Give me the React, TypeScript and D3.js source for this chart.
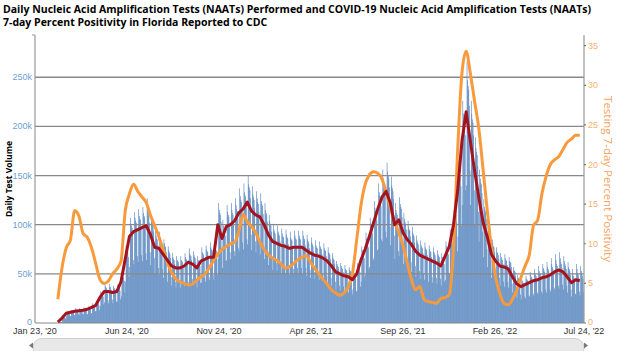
import React from "react";
import * as d3 from "d3";

const titleLines = [
  "Daily Nucleic Acid Amplification Tests (NAATs) Performed and COVID-19 Nucleic Acid Amplification Tests (NAATs)",
  "7-day Percent Positivity in Florida Reported to CDC",
];

const xTickDates = ["2020-01-23", "2020-06-24", "2020-11-24", "2021-04-26", "2021-09-26", "2022-02-26", "2022-07-24"];
const xTickLabels = ["Jan 23, '20", "Jun 24, '20", "Nov 24, '20", "Apr 26, '21", "Sep 26, '21", "Feb 26, '22", "Jul 24, '22"];
const leftTicks = [0, 50, 100, 150, 200, 250];
const rightTicks = [0, 5, 10, 15, 20, 25, 30, 35];

// daily NAATs (thousands), one row per week starting Sun Mar 1 2020
const seriesStart = "2020-03-01";
const dailyTestsK = [
  [0, 1, 1, 1, 1, 1, 1], [3, 6, 6, 5, 6, 5, 4], [7, 12, 11, 11, 11, 10, 7], [7, 13, 13, 12, 12, 11, 8],
  [8, 15, 14, 13, 13, 12, 9], [8, 15, 14, 14, 14, 13, 9], [9, 16, 15, 15, 14, 13, 9], [9, 17, 16, 16, 15, 14, 10],
  [10, 20, 18, 18, 18, 16, 12], [12, 22, 21, 20, 20, 18, 13], [17, 32, 30, 29, 29, 27, 19], [21, 39, 37, 36, 35, 33, 23],
  [20, 40, 36, 37, 34, 33, 24], [20, 38, 36, 35, 34, 32, 22], [21, 39, 37, 36, 35, 33, 24], [27, 51, 48, 47, 46, 43, 31],
  [42, 79, 75, 73, 72, 67, 47], [57, 107, 101, 99, 97, 91, 64], [60, 113, 107, 104, 102, 96, 68], [62, 116, 109, 106, 105, 98, 69],
  [63, 118, 112, 109, 107, 100, 71], [64, 127, 118, 113, 109, 102, 72], [59, 110, 104, 101, 99, 93, 66], [50, 94, 89, 86, 85, 79, 56],
  [49, 93, 87, 85, 84, 78, 55], [46, 85, 81, 78, 77, 72, 51], [42, 78, 74, 72, 70, 66, 47], [38, 71, 67, 65, 64, 60, 42],
  [36, 68, 64, 63, 62, 58, 41], [36, 68, 64, 63, 62, 58, 41], [38, 71, 67, 65, 64, 60, 42], [40, 76, 71, 69, 68, 64, 45],
  [39, 73, 69, 67, 66, 62, 44], [36, 68, 64, 63, 62, 58, 41], [41, 77, 72, 71, 69, 65, 46], [42, 79, 75, 73, 72, 67, 47],
  [44, 82, 77, 75, 74, 69, 49], [44, 82, 77, 75, 74, 69, 49], [65, 122, 115, 112, 110, 103, 73], [56, 105, 99, 96, 95, 89, 63],
  [64, 120, 113, 110, 108, 101, 72], [65, 122, 115, 112, 110, 103, 73], [68, 127, 120, 116, 114, 107, 76], [73, 137, 129, 125, 123, 115, 82],
  [75, 142, 133, 130, 128, 119, 85], [80, 150, 141, 138, 135, 127, 90], [74, 139, 131, 128, 125, 117, 83], [72, 134, 127, 123, 121, 113, 80],
  [70, 132, 124, 121, 119, 111, 79], [65, 122, 115, 112, 110, 103, 73], [59, 110, 104, 101, 99, 93, 66], [54, 101, 95, 93, 91, 85, 61],
  [53, 99, 93, 91, 89, 83, 59], [51, 96, 91, 88, 87, 81, 58], [51, 95, 90, 87, 86, 80, 57], [49, 93, 87, 85, 84, 78, 55],
  [50, 94, 89, 86, 85, 79, 56], [50, 94, 89, 86, 85, 79, 56], [50, 94, 89, 86, 85, 79, 56], [48, 90, 85, 83, 81, 76, 54],
  [46, 87, 82, 80, 78, 73, 52], [45, 84, 79, 77, 76, 71, 50], [44, 83, 78, 76, 75, 70, 50], [43, 81, 76, 74, 73, 68, 48],
  [41, 77, 72, 71, 69, 65, 46], [38, 71, 67, 65, 64, 60, 42], [34, 63, 60, 58, 57, 54, 38], [33, 61, 58, 56, 55, 52, 37],
  [31, 59, 55, 54, 53, 49, 35], [31, 57, 54, 53, 52, 48, 34], [29, 54, 51, 49, 48, 45, 32], [33, 61, 58, 56, 55, 52, 37],
  [42, 78, 74, 72, 70, 66, 47], [49, 92, 86, 84, 83, 77, 55], [57, 107, 101, 99, 97, 91, 64], [66, 124, 117, 114, 112, 105, 74],
  [75, 142, 133, 130, 128, 119, 85], [83, 156, 147, 143, 141, 132, 93], [87, 163, 154, 150, 147, 138, 98], [79, 149, 140, 137, 134, 126, 89],
  [65, 122, 115, 112, 110, 103, 73], [68, 128, 121, 118, 116, 108, 77], [60, 112, 106, 103, 101, 95, 67], [55, 104, 98, 95, 94, 88, 62],
  [52, 98, 92, 90, 88, 82, 58], [47, 89, 84, 82, 80, 75, 53], [45, 84, 79, 77, 76, 71, 50], [44, 82, 77, 75, 74, 69, 49],
  [42, 79, 75, 73, 72, 67, 47], [41, 77, 72, 71, 69, 65, 46], [40, 74, 70, 68, 67, 63, 45], [38, 71, 67, 65, 64, 60, 42],
  [44, 83, 78, 76, 75, 70, 50], [51, 95, 90, 87, 86, 80, 57], [65, 122, 115, 112, 110, 103, 73], [88, 165, 155, 151, 149, 139, 99],
  [120, 226, 213, 207, 204, 191, 135], [140, 266, 247, 241, 237, 221, 155], [120, 226, 213, 207, 204, 191, 135], [101, 189, 178, 174, 171, 160, 113],
  [83, 156, 147, 143, 141, 132, 93], [67, 126, 118, 115, 113, 106, 75], [57, 107, 101, 99, 97, 91, 64], [46, 85, 81, 78, 77, 72, 51],
  [41, 77, 72, 71, 69, 65, 46], [38, 71, 67, 65, 64, 60, 42], [37, 70, 66, 64, 63, 59, 42], [36, 67, 63, 62, 61, 57, 40],
  [31, 57, 54, 53, 52, 48, 34], [26, 49, 46, 45, 44, 41, 29], [24, 45, 43, 41, 41, 38, 27], [25, 48, 45, 44, 43, 40, 28],
  [27, 52, 49, 47, 46, 43, 30], [28, 55, 51, 49, 48, 45, 31], [29, 58, 53, 51, 50, 46, 32], [30, 60, 56, 54, 52, 48, 34],
  [31, 62, 57, 55, 53, 49, 34], [32, 66, 60, 57, 55, 51, 36], [34, 70, 64, 60, 58, 55, 38], [35, 72, 66, 62, 60, 56, 39],
  [34, 68, 63, 60, 58, 55, 38], [31, 62, 57, 55, 53, 49, 34], [27, 55, 50, 48, 46, 43, 30], [29, 60, 55, 51, 49, 46, 32],
  [28, 58, 53, 50, 48, 45, 31],
];

// 7-day average tests (thousands), weekly samples from Mar 1 2020
const avgTestsK = [
  1, 5, 10, 11, 12, 12.5, 13, 14, 16, 18, 26, 32, 32, 31, 32, 42, 65, 88, 93, 95,
  97, 99, 90, 77, 76, 70, 64, 58, 56, 56, 58, 62, 60, 56, 63, 65, 67, 67, 100, 86,
  98, 100, 104, 112, 116, 123, 114, 110, 108, 100, 90, 83, 81, 79, 78, 76, 77, 77, 77, 74,
  71, 69, 68, 66, 63, 58, 52, 50, 48, 47, 44, 50, 64, 75, 88, 102, 116, 128, 134, 122,
  100, 105, 92, 85, 80, 73, 69, 67, 65, 63, 61, 58, 68, 78, 100, 135, 185, 215, 185, 155,
  128, 103, 88, 70, 63, 58, 57, 55, 47, 40, 37, 39, 41, 43, 44, 46, 47, 49, 52, 54,
  52, 47, 41, 44, 43,
];

// 7-day percent positivity, weekly samples from Mar 1 2020
const positivityPct = [
  3.0, 7.0, 9.5, 10.5, 14.2, 13.5, 11.3, 10.8, 9.5, 7.5, 5.5, 5.0, 5.3, 6.2, 6.8, 7.8, 14.1, 16.3, 17.5, 16.6,
  15.9, 15.2, 13.6, 12.3, 10.9, 9.3, 7.7, 6.4, 5.6, 5.2, 5.0, 4.8, 4.9, 5.4, 5.8, 6.2, 7.0, 7.9, 8.7, 9.3,
  9.7, 10.0, 10.2, 11.6, 13.7, 12.8, 12.2, 11.4, 10.2, 9.3, 8.6, 8.2, 7.9, 7.5, 6.9, 7.1, 7.5, 8.0, 8.3, 8.5,
  7.7, 6.9, 6.2, 5.5, 4.9, 4.2, 3.8, 3.5, 3.8, 4.6, 6.3, 10.5, 14.8, 17.5, 18.7, 19.1, 18.9, 18.2, 16.5, 14.6,
  12.8, 11.4, 9.8, 7.6, 5.5, 4.2, 4.6, 3.0, 2.7, 2.6, 2.5, 3.1, 3.2, 3.6, 9.5, 22.0, 31.5, 34.3, 31.5, 28.0,
  24.6, 19.5, 14.3, 9.5, 5.8, 3.7, 2.5, 2.3, 3.0, 4.1, 5.7, 7.2, 8.6, 12.3, 13.0, 16.3, 18.5, 20.0, 20.6, 21.0,
  21.9, 22.8, 23.2, 23.7, 23.7,
];

export default function App() {
  const width = 624;
  const height = 351;
  const left = 35;
  const right = 584;
  const top = 35;
  const bottom = 323;

  const parse = d3.timeParse("%Y-%m-%d");
  const x = d3
    .scaleTime()
    .domain([parse("2020-01-23")!, parse("2022-07-24")!])
    .range([left, right]);
  const yL = d3.scaleLinear().domain([0, 293]).range([bottom, top]);
  const yR = d3.scaleLinear().domain([0, 36.35]).range([bottom, top]);

  const start = parse(seriesStart)!;
  const bars = dailyTestsK.flat().map((v, i) => ({ date: d3.timeDay.offset(start, i), v }));
  const dayW = x(d3.timeDay.offset(start, 1)) - x(start);
  const avg = avgTestsK.map((v, k) => ({ date: d3.timeDay.offset(start, 7 * k), v }));
  const pos = positivityPct.map((v, k) => ({ date: d3.timeDay.offset(start, 7 * k), v }));

  const avgLine = d3
    .line<{ date: Date; v: number }>()
    .x((d) => x(d.date))
    .y((d) => yL(d.v));
  const posLine = d3
    .line<{ date: Date; v: number }>()
    .x((d) => x(d.date))
    .y((d) => yR(d.v))
    .curve(d3.curveMonotoneX);

  const sans = "'Liberation Sans', Arial, sans-serif";
  const open = "'Open Sans', sans-serif";

  return (
    <svg
      width={width}
      height={height}
      style={{ position: "absolute", left: 0, top: 0, background: "#fff" }}
    >
      {titleLines.map((t, i) => (
        <text key={i} x={3} y={13 + i * 12.6} fontFamily={open} fontWeight="bold" fontSize={10.5} fill="#000">
          {t}
        </text>
      ))}

      {/* bars */}
      <g fill="#4176b6">
        {bars.map((d, i) => (
          <rect key={i} x={x(d.date)} y={yL(d.v)} width={dayW * 0.95} height={bottom - yL(d.v)} />
        ))}
      </g>

      {/* grid */}
      {leftTicks.slice(1).map((t) => (
        <line key={t} x1={left} x2={right} y1={yL(t)} y2={yL(t)} stroke="#888" strokeWidth={1.3} />
      ))}

      {/* axes */}
      <line x1={left} x2={left} y1={top} y2={bottom} stroke="#999" strokeWidth={1.2} />
      <line x1={left - 3} x2={left} y1={top} y2={top} stroke="#999" />
      <line x1={right} x2={right} y1={top} y2={bottom} stroke="#999" strokeWidth={1.2} />
      <line x1={left} x2={right} y1={bottom} y2={bottom} stroke="#888" strokeWidth={1.2} />
      {rightTicks.map((t) => (
        <line key={t} x1={right} x2={right + 2} y1={yR(t)} y2={yR(t)} stroke="#777" strokeWidth={1.2} />
      ))}

      {leftTicks.map((t) => (
        <text key={t} x={left - 3} y={yL(t) + (t === 0 ? 2 : 3)} textAnchor="end" fontFamily={sans} fontSize={9} fill="#6d9fd4">
          {t === 0 ? "0" : `${t}k`}
        </text>
      ))}
      {rightTicks.map((t) => (
        <text key={t} x={right + 4} y={yR(t) + (t === 0 ? 2 : 3)} fontFamily={sans} fontSize={9} fill="#f8b170">
          {t}
        </text>
      ))}
      {xTickDates.map((d, i) => (
        <text key={d} x={x(parse(d)!)} y={333.5} textAnchor="middle" fontFamily={sans} fontSize={9} fill="#333">
          {xTickLabels[i]}
        </text>
      ))}

      <text
        transform={`translate(12,179) rotate(-90)`}
        textAnchor="middle"
        fontFamily={open}
        fontWeight="bold"
        fontSize={8.5}
        fill="#000"
      >
        Daily Test Volume
      </text>
      <text
        transform={`translate(604,179) rotate(90)`}
        textAnchor="middle"
        fontFamily={open}
        fontSize={11.5}
        fill="#f7a35c"
      >
        Testing 7-day Percent Positivity
      </text>

      {/* lines */}
      <path d={posLine(pos) ?? ""} fill="none" stroke="#f89a3c" strokeWidth={3} strokeLinejoin="round" />
      <path d={avgLine(avg) ?? ""} fill="none" stroke="#a5141e" strokeWidth={3} strokeLinejoin="round" />

      {/* navigator scrollbar */}
      <rect x={33} y={338.5} width={551} height={18} rx={9} fill="#e8e8e8" stroke="#d0d0d0" />
      <path d="M29,345.5 L33,342.5 L33,348.5 Z" fill="#777" />
      <path d="M588,345.5 L584,342.5 L584,348.5 Z" fill="#777" />
    </svg>
  );
}
